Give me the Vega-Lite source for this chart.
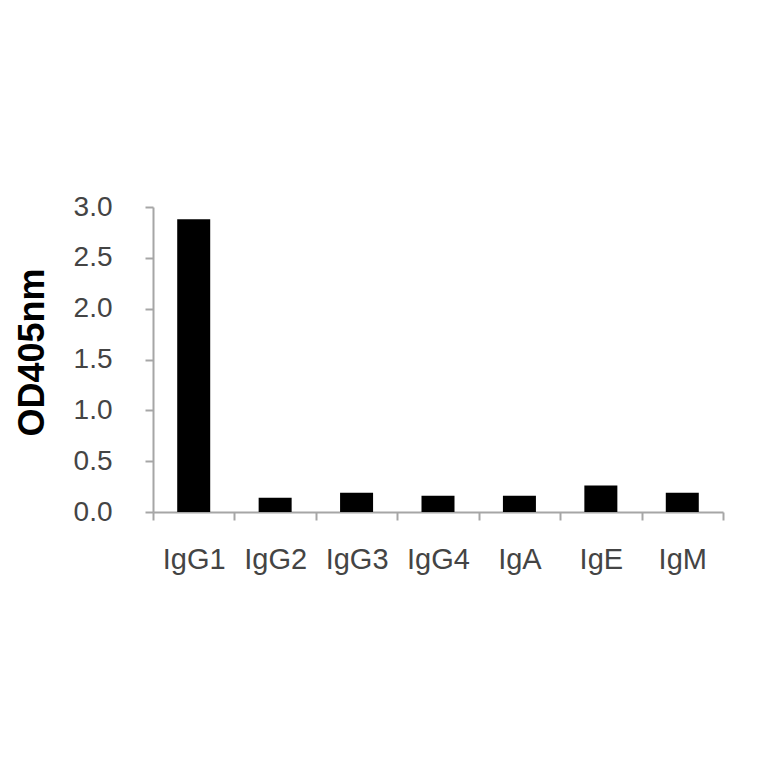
{
  "$schema": "https://vega.github.io/schema/vega-lite/v6.json",
  "width": 570,
  "height": 305,
  "autosize": "none",
  "padding": {"left": 153, "top": 207, "right": 41, "bottom": 252},
  "background": "white",
  "data": {
    "values": [
      {"isotype": "IgG1", "od": 2.88},
      {"isotype": "IgG2", "od": 0.14},
      {"isotype": "IgG3", "od": 0.19},
      {"isotype": "IgG4", "od": 0.16},
      {"isotype": "IgA", "od": 0.16},
      {"isotype": "IgE", "od": 0.26},
      {"isotype": "IgM", "od": 0.19}
    ]
  },
  "mark": {"type": "bar", "width": 33, "color": "#000000"},
  "encoding": {
    "x": {
      "field": "isotype",
      "type": "nominal",
      "sort": null,
      "scale": {"paddingInner": 0, "paddingOuter": 0},
      "axis": {
        "title": null,
        "labelAngle": 0,
        "tickBand": "extent",
        "tickSize": 8,
        "labelPadding": 25,
        "labelFont": "Liberation Sans",
        "labelFontSize": 29,
        "labelColor": "#444444",
        "domainColor": "#a6a6a6",
        "domainWidth": 2,
        "tickColor": "#a6a6a6",
        "tickWidth": 2
      }
    },
    "y": {
      "field": "od",
      "type": "quantitative",
      "scale": {"domain": [0, 3], "nice": false},
      "axis": {
        "title": "OD405nm",
        "values": [0, 0.5, 1, 1.5, 2, 2.5, 3],
        "format": ".1f",
        "grid": false,
        "tickSize": 8,
        "labelPadding": 33,
        "labelFont": "Liberation Sans",
        "labelFontSize": 28,
        "labelColor": "#444444",
        "domainColor": "#a6a6a6",
        "domainWidth": 2,
        "tickColor": "#a6a6a6",
        "tickWidth": 2,
        "titleFont": "Liberation Sans",
        "titleFontSize": 36,
        "titleFontWeight": "bold",
        "titleColor": "#000000",
        "titleX": -121,
        "titleY": 145,
        "titleBaseline": "middle",
        "titleAlign": "center"
      }
    }
  },
  "config": {"view": {"stroke": null}}
}
